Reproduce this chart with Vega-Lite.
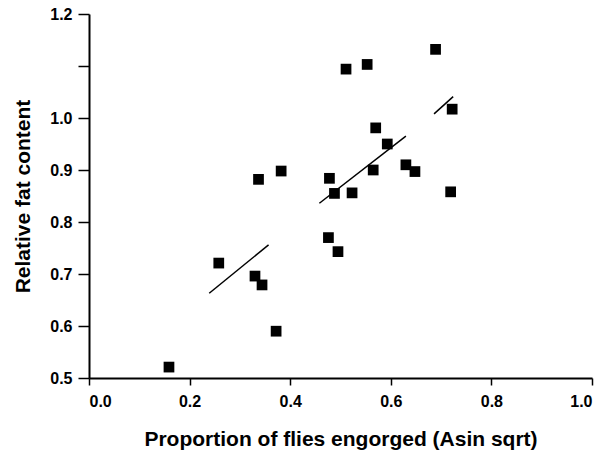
{
  "$schema": "https://vega.github.io/schema/vega-lite/v6.json",
  "width": 503,
  "height": 364,
  "autosize": "none",
  "padding": {"left": 89, "top": 14, "right": 12, "bottom": 75},
  "background": "white",
  "config": {
    "view": {"stroke": null},
    "axis": {"grid": false, "domainColor": "black", "tickColor": "black", "labelColor": "black", "titleColor": "black", "labelFont": "Liberation Sans", "titleFont": "Liberation Sans", "labelFontWeight": "bold", "titleFontWeight": "bold", "domainWidth": 2, "tickWidth": 1.5}
  },
  "layer": [
    {
      "data": {"values": [
        {"x": 0.159, "y": 0.521},
        {"x": 0.258, "y": 0.721},
        {"x": 0.330, "y": 0.696},
        {"x": 0.344, "y": 0.679},
        {"x": 0.372, "y": 0.590},
        {"x": 0.337, "y": 0.882},
        {"x": 0.382, "y": 0.898},
        {"x": 0.478, "y": 0.884},
        {"x": 0.488, "y": 0.855},
        {"x": 0.523, "y": 0.856},
        {"x": 0.476, "y": 0.770},
        {"x": 0.495, "y": 0.743},
        {"x": 0.511, "y": 1.094},
        {"x": 0.553, "y": 1.103},
        {"x": 0.565, "y": 0.900},
        {"x": 0.570, "y": 0.981},
        {"x": 0.593, "y": 0.950},
        {"x": 0.630, "y": 0.910},
        {"x": 0.648, "y": 0.897},
        {"x": 0.689, "y": 1.132},
        {"x": 0.722, "y": 1.017},
        {"x": 0.719, "y": 0.858}
      ]},
      "mark": {"type": "point", "shape": "square", "filled": true, "color": "black", "size": 115, "opacity": 1},
      "encoding": {
        "x": {"field": "x", "type": "quantitative", "scale": {"domain": [0, 1], "nice": false, "zero": false},
          "axis": {"values": [0, 0.2, 0.4, 0.6, 0.8, 1.0], "format": ".1f", "title": "Proportion of flies engorged (Asin sqrt)", "labelFontSize": 16, "titleFontSize": 21, "tickSize": 7, "labelPadding": 8, "titlePadding": 19}},
        "y": {"field": "y", "type": "quantitative", "scale": {"domain": [0.5, 1.2], "nice": false, "zero": false},
          "axis": {"values": [0.5, 0.6, 0.7, 0.8, 0.9, 1.0, 1.1, 1.2], "labelExpr": "datum.value > 1.05 && datum.value < 1.15 ? '' : format(datum.value, '.1f')", "title": "Relative fat content", "labelFontSize": 16, "titleFontSize": 21, "tickSize": 11, "labelPadding": 6, "titlePadding": 16}}
      }
    },
    {
      "data": {"values": [
        {"seg": "a", "x": 0.239, "y": 0.663},
        {"seg": "a", "x": 0.357, "y": 0.756},
        {"seg": "b", "x": 0.458, "y": 0.836},
        {"seg": "b", "x": 0.630, "y": 0.965},
        {"seg": "c", "x": 0.686, "y": 1.008},
        {"seg": "c", "x": 0.724, "y": 1.041}
      ]},
      "mark": {"type": "line", "color": "black", "strokeWidth": 1.5},
      "encoding": {
        "x": {"field": "x", "type": "quantitative"},
        "y": {"field": "y", "type": "quantitative"},
        "detail": {"field": "seg", "type": "nominal"}
      }
    }
  ]
}
